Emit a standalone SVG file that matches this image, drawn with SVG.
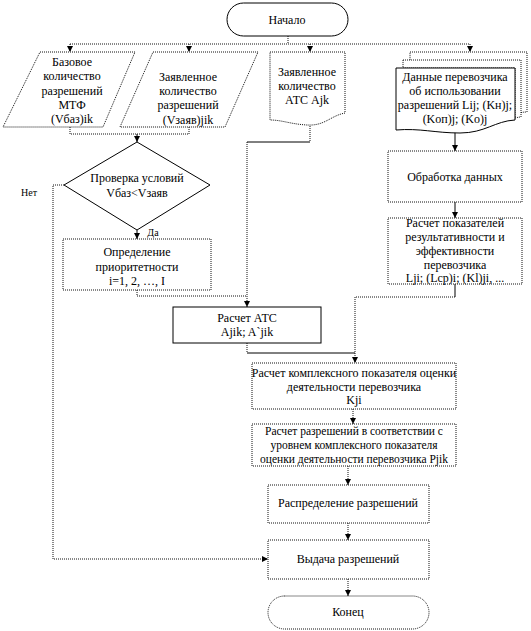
<svg xmlns="http://www.w3.org/2000/svg" width="531" height="631" viewBox="0 0 531 631">
<style>
.s{fill:#fff;stroke:#000;stroke-width:1}
.d{fill:#fff;stroke:#111;stroke-width:1;stroke-dasharray:1 1}
.c{fill:none;stroke:#111;stroke-width:1;stroke-dasharray:1 1}
.cs{fill:none;stroke:#000;stroke-width:1}
text{font-family:"Liberation Serif","Times New Roman",serif;font-size:12px;fill:#000;text-anchor:middle}
.sm{font-size:10px}
.t{font-size:11.5px}
</style>
<defs>
<marker id="a" markerUnits="userSpaceOnUse" markerWidth="7" markerHeight="6" refX="6" refY="3" orient="auto">
<path d="M0,0 L6,3 L0,6 z" fill="#000"/>
</marker>
</defs>
<g id="connectors">
<path class="c" d="M288,36 V44 M70,44 H470"/>
<path class="c" d="M70,44 V52" marker-end="url(#a)"/>
<path class="c" d="M189,44 V52" marker-end="url(#a)"/>
<path class="c" d="M310,44 V52" marker-end="url(#a)"/>
<path class="c" d="M470,44 V52" marker-end="url(#a)"/>
<path class="c" d="M70,127 V134 H189 V127"/>
<path class="cs" d="M137,134 V142" marker-end="url(#a)"/>
<path class="cs" d="M137,230 V239" marker-end="url(#a)"/>
<path class="c" d="M64,185 H53 V559 H268" marker-end="url(#a)"/>
<path class="c" d="M310,118 V142"/>
<path class="cs" d="M310,142 H247"/>
<path class="c" d="M247,142 V307" marker-end="url(#a)"/>
<path class="c" d="M137,290 V296 H247"/>
<path class="cs" d="M455,130 V151" marker-end="url(#a)"/>
<path class="cs" d="M455,202 V218" marker-end="url(#a)"/>
<path class="cs" d="M455,284 V297"/>
<path class="c" d="M455,297 H355 V363" marker-end="url(#a)"/>
<path class="c" d="M247,343 V353"/>
<path class="cs" d="M247,353 H355"/>
<path class="c" d="M353,409 V424" marker-end="url(#a)"/>
<path class="c" d="M348,466 V485" marker-end="url(#a)"/>
<path class="c" d="M348,523 V540" marker-end="url(#a)"/>
<path class="c" d="M348,579 V596" marker-end="url(#a)"/>
</g>
<g id="start">
<rect class="s" x="227" y="3" width="121" height="33" rx="16.5"/>
<text x="287" y="24">Начало</text>
</g>
<g id="base">
<polygon class="d" points="40,52 135,52 103,127 3,127"/>
<text x="72" y="66">Базовое</text>
<text x="72" y="80">количество</text>
<text x="72" y="95">разрешений</text>
<text x="72" y="109">МТФ</text>
<text x="72" y="123">(Vбаз)ik</text>
</g>
<g id="declared">
<polygon class="d" points="153,52 258,52 225,127 120,127"/>
<text x="188" y="81">Заявленное</text>
<text x="188" y="95">количество</text>
<text x="188" y="109">разрешений</text>
<text x="188" y="124">(Vзаяв)jik</text>
</g>
<g id="atc-doc">
<path class="d" d="M270,52 H345 V113 C330,116 325,126 307,125 C290,124 282,120 270,120 Z"/>
<text x="307" y="76">Заявленное</text>
<text x="307" y="90">количество</text>
<text x="307" y="104">АТС Ajk</text>
</g>
<g id="carrier-data">
<path class="d" d="M410,52 H527 V112 C522,112 519,113 515,114 V68 H410 Z"/>
<path class="d" d="M403,60 H521 V117 C518,117 516,118 515,118 V68 H403 Z"/>
<path class="s" d="M396,68 H515 V120 C495,121 485,133 460,133 C435,133 420,128 396,130 Z"/>
<text x="455" y="81">Данные перевозчика</text>
<text x="455" y="95">об использовании</text>
<text x="455" y="109">разрешений Lij; (Kн)j;</text>
<text x="455" y="123">(Kоп)j; (Kо)j</text>
</g>
<g id="check">
<polygon class="s" points="137,142 210,185 137,230 64,185"/>
<text x="137" y="182">Проверка условий</text>
<text x="137" y="197">Vбаз&lt;Vзаяв</text>
</g>
<g id="no-label"><text class="sm" x="29" y="196">Нет</text></g>
<g id="yes-label"><text class="sm" x="153" y="236">Да</text></g>
<g id="priority">
<rect class="d" x="63" y="239" width="148" height="51"/>
<text x="137" y="256">Определение</text>
<text x="137" y="271">приоритетности</text>
<text x="137" y="285">i=1, 2, …, I</text>
</g>
<g id="processing">
<rect class="d" x="388" y="151" width="134" height="51"/>
<text x="455" y="181">Обработка данных</text>
</g>
<g id="indicators">
<rect class="d" x="388" y="218" width="134" height="66"/>
<text x="455" y="227">Расчет показателей</text>
<text x="455" y="241">результативности и</text>
<text x="455" y="255">эффективности</text>
<text x="455" y="269">перевозчика</text>
<text x="455" y="282">Lji; (Lср)i; (Kl)ji, ...</text>
</g>
<g id="atc-calc">
<rect class="s" x="173" y="307" width="148" height="36"/>
<text x="247" y="322">Расчет АТС</text>
<text x="247" y="336">Ajik; A`jik</text>
</g>
<g id="complex">
<rect class="d" x="252" y="363" width="204" height="46"/>
<text x="354" y="377">Расчет комплексного показателя оценки</text>
<text x="354" y="391">деятельности перевозчика</text>
<text x="354" y="404">Kji</text>
</g>
<g id="permits-calc">
<rect class="d" x="252" y="424" width="204" height="42"/>
<text class="t" x="354" y="435">Расчет разрешений в соответствии с</text>
<text class="t" x="354" y="449">уровнем комплексного показателя</text>
<text class="t" x="354" y="463">оценки деятельности перевозчика Pjik</text>
</g>
<g id="distribution">
<rect class="d" x="268" y="485" width="161" height="38"/>
<text x="348" y="507">Распределение разрешений</text>
</g>
<g id="issue">
<rect class="d" x="268" y="540" width="161" height="39"/>
<text x="348" y="563">Выдача разрешений</text>
</g>
<g id="end">
<rect class="d" x="268" y="596" width="161" height="33" rx="16.5"/>
<text x="348" y="616">Конец</text>
</g>
</svg>
